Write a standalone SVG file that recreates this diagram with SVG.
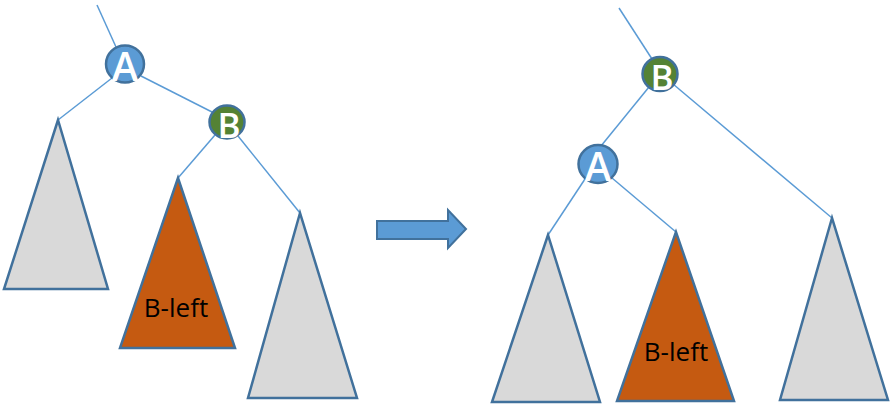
<svg xmlns="http://www.w3.org/2000/svg" width="890" height="408" viewBox="0 0 890 408">
<style>
.edge{stroke:#5B9BD5;stroke-width:1.5;fill:none}
.tri{fill:#D9D9D9;stroke:#41719C;stroke-width:2.5;stroke-linejoin:miter}
.tri.o{fill:#C55A11}
.nA{fill:#5B9BD5;stroke:#41719C;stroke-width:2.5}
.nB{fill:#548235;stroke:#41719C;stroke-width:2.5}
.lt{font-family:"Open Sans","Liberation Sans",sans-serif;font-weight:600;fill:#fff;text-anchor:middle}
.lbl{font-family:"Open Sans","Liberation Sans",sans-serif;font-size:26px;fill:#000;text-anchor:middle}
</style>
<rect width="890" height="408" fill="#fff"/>
<g id="connectors">
<line class="edge" x1="97" y1="5" x2="116" y2="47"/>
<line class="edge" x1="112" y1="78" x2="58" y2="120"/>
<line class="edge" x1="141" y1="76" x2="212" y2="112"/>
<line class="edge" x1="215" y1="135" x2="178" y2="178"/>
<line class="edge" x1="238" y1="136" x2="300" y2="213"/>
<line class="edge" x1="619" y1="8" x2="652" y2="59"/>
<line class="edge" x1="649" y1="87" x2="601" y2="146"/>
<line class="edge" x1="673" y1="84" x2="832" y2="218"/>
<line class="edge" x1="585" y1="179" x2="548" y2="235"/>
<line class="edge" x1="612" y1="178" x2="676" y2="232"/>
</g>
<g id="left-tree">
<g id="L-T1"><polygon class="tri" points="58,120 4,289 108,289"/></g>
<g id="L-Bleft"><polygon class="tri o" points="178,178 120,348 235,348"/><text class="lbl" x="176" y="317">B-left</text></g>
<g id="L-T3"><polygon class="tri" points="300,213 248,398 357,398"/></g>
<g id="L-A"><ellipse class="nA" cx="125" cy="64" rx="19" ry="18.5"/><text class="lt" x="125" y="81" font-size="40">A</text></g>
<g id="L-B"><ellipse class="nB" cx="227" cy="122" rx="17.5" ry="16.5"/><text class="lt" x="229" y="138" font-size="35">B</text></g>
</g>
<g id="arrow"><polygon points="377,221 448,221 448,210 466,229 448,248 448,239 377,239" fill="#5B9BD5" stroke="#41719C" stroke-width="2"/></g>
<g id="right-tree">
<g id="R-T1"><polygon class="tri" points="548,235 492,402 600,402"/></g>
<g id="R-Bleft"><polygon class="tri o" points="676,232 617,401 734,401"/><text class="lbl" x="676" y="361">B-left</text></g>
<g id="R-T3"><polygon class="tri" points="832,218 780,400 888,400"/></g>
<g id="R-B"><ellipse class="nB" cx="660" cy="74" rx="17.5" ry="17"/><text class="lt" x="662" y="90" font-size="35">B</text></g>
<g id="R-A"><ellipse class="nA" cx="598" cy="164" rx="19.5" ry="19"/><text class="lt" x="598" y="181" font-size="40">A</text></g>
</g>
</svg>
